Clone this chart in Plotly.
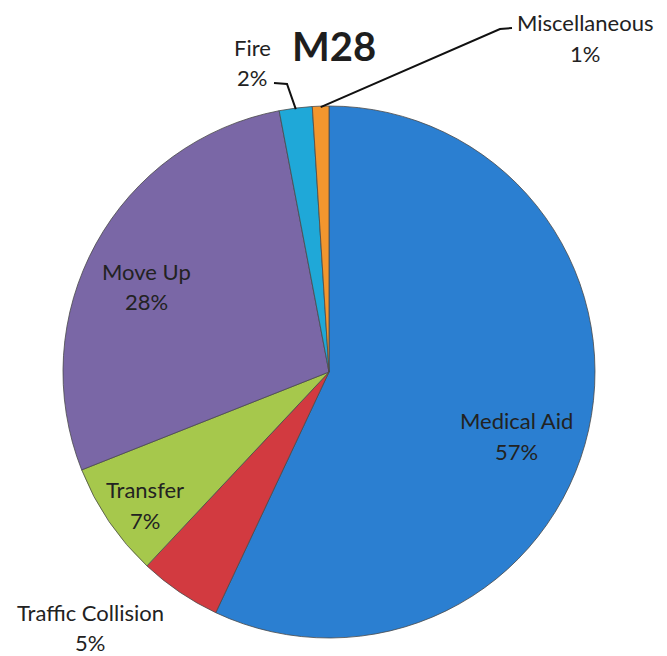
import math
import plotly.graph_objects as go

W, H = 667, 656

# ---- data ----
categories = ["Medical Aid", "Traffic Collision", "Transfer", "Move Up", "Fire", "Miscellaneous"]
values = [57, 5, 7, 28, 2, 1]
colors = ["#2B7FD1", "#D23A40", "#A6C84C", "#7A67A6", "#1FA8D8", "#F2962E"]
title_text = "M28"

# ---- geometry (pixels) ----
cx, cy, r = 329, 372, 266

def px(x):
    return x / W

def py(y):
    return 1 - y / H

fig = go.Figure(go.Pie(
    labels=categories,
    values=values,
    sort=False,
    direction="clockwise",
    rotation=0,
    marker=dict(colors=colors, line=dict(color="#4a4a4a", width=0.8)),
    textinfo="none",
    hoverinfo="label+percent",
    domain=dict(x=[px(cx - r), px(cx + r)], y=[py(cy + r), py(cy - r)]),
    showlegend=False,
))

font_family = "Lato, 'Open Sans', sans-serif"
txt_color = "#222222"
fs = 22

total = sum(values)

# label placements (pixel centres of two lines)
label_pos = {
    "Medical Aid": (516, 420, 452),
    "Move Up": (146, 271, 301),
    "Transfer": (145, 489, 520),
    "Traffic Collision": (90, 612, 642),
    "Fire": (252, 47, 77),
    "Miscellaneous": (585, 23, 54),
}

annotations = []
for c, v in zip(categories, values):
    x, y1, y2 = label_pos[c]
    annotations.append(dict(x=px(x), y=py(y1), xref="paper", yref="paper", text=c,
                            showarrow=False, font=dict(family=font_family, size=fs, color=txt_color),
                            xanchor="center", yanchor="middle"))
    annotations.append(dict(x=px(x), y=py(y2), xref="paper", yref="paper", text=f"{round(v / total * 100)}%",
                            showarrow=False, font=dict(family=font_family, size=fs, color=txt_color),
                            xanchor="center", yanchor="middle"))

annotations.append(dict(x=px(334), y=py(46), xref="paper", yref="paper", text=f"<b>{title_text}</b>",
                        showarrow=False, font=dict(family=font_family, size=40, color="#1e1e1e"),
                        xanchor="center", yanchor="middle"))

# leader lines from slice mid-angle to labels
cum = 0
mid_angles = {}
for c, v in zip(categories, values):
    mid_angles[c] = (cum + v / 2) / total * 2 * math.pi
    cum += v

def edge_point(c, inset=1):
    a = mid_angles[c]
    rr = r - inset
    return cx + rr * math.sin(a), cy - rr * math.cos(a)

shapes = []
leaders = {
    "Fire": [(287, 84), (274, 83)],
    "Miscellaneous": [(500, 29), (512, 28)],
}
for c, pts in leaders.items():
    sx, sy = edge_point(c)
    path = f"M {px(sx)} {py(sy)}"
    for (x, y) in pts:
        path += f" L {px(x)} {py(y)}"
    shapes.append(dict(type="path", path=path, xref="paper", yref="paper",
                       line=dict(color="#111111", width=2)))

fig.update_layout(
    width=W, height=H,
    margin=dict(l=0, r=0, t=0, b=0),
    paper_bgcolor="white",
    plot_bgcolor="white",
    annotations=annotations,
    shapes=shapes,
)

fig.write_html(
    "out.html",
    config={"displayModeBar": False},
    post_script="document.body.style.margin='0';document.body.style.padding='0';document.body.style.overflow='hidden';",
)
